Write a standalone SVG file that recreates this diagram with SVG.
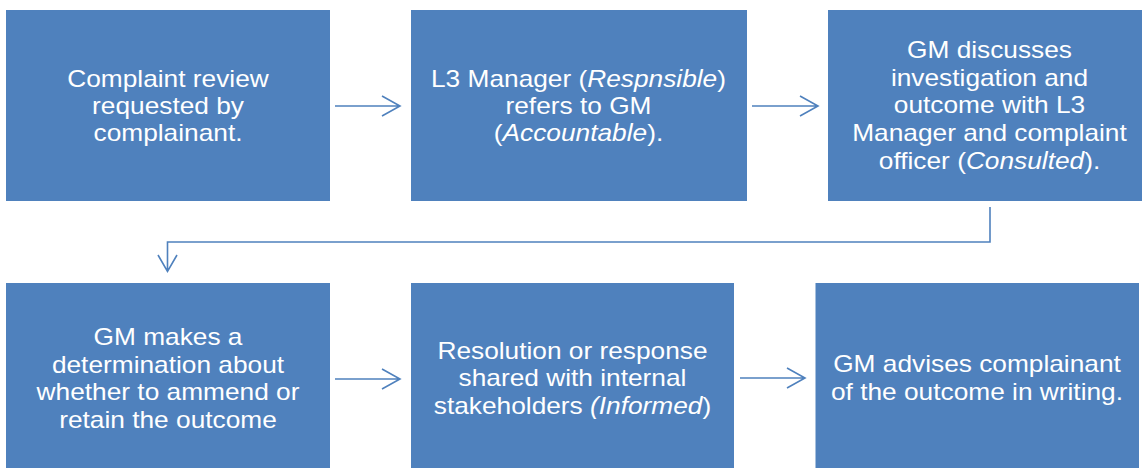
<svg xmlns="http://www.w3.org/2000/svg" width="1142" height="468" viewBox="0 0 1142 468">
<style>
.box{fill:#4F81BD;}
.t{font-family:"Liberation Sans",Arial,sans-serif;font-size:24px;fill:#FFFFFF;text-anchor:middle;}
.i{font-style:italic;}
.c{fill:none;stroke:#4F81BD;stroke-width:1.6;}
</style>
<rect width="1142" height="468" fill="#FFFFFF"/>
<g id="connectors">
<path class="c" d="M335,106 H400 M382,96 L400,106 L382,116"/>
<path class="c" d="M752,106 H818 M800,96 L818,106 L800,116"/>
<path class="c" d="M990,207 V242 H167.5 V271 M158,255 L167.5,271.5 L177,255"/>
<path class="c" d="M335,379 H400 M382,369 L400,379 L382,389"/>
<path class="c" d="M740,378 H805 M787,368 L805,378 L787,388"/>
</g>
<g id="n1">
<rect class="box" x="6" y="10" width="324" height="191"/>
<g transform="translate(168,0) scale(1.095,1)">
<text class="t" x="0" y="87">Complaint review</text>
<text class="t" x="0" y="114">requested by</text>
<text class="t" x="0" y="141">complainant.</text>
</g>
</g>
<g id="n2">
<rect class="box" x="411" y="10" width="336" height="191"/>
<g transform="translate(578.5,0) scale(1.095,1)">
<text class="t" x="0" y="87">L3 Manager (<tspan class="i">Respnsible</tspan>)</text>
<text class="t" x="0" y="114">refers to GM</text>
<text class="t" x="0" y="141">(<tspan class="i">Accountable</tspan>).</text>
</g>
</g>
<g id="n3">
<rect class="box" x="828" y="10" width="323" height="191"/>
<g transform="translate(989.5,0) scale(1.095,1)">
<text class="t" x="0" y="58.5">GM discusses</text>
<text class="t" x="0" y="86">investigation and</text>
<text class="t" x="0" y="113.5">outcome with L3</text>
<text class="t" x="0" y="141">Manager and complaint</text>
<text class="t" x="0" y="169">officer (<tspan class="i">Consulted</tspan>).</text>
</g>
</g>
<g id="n4">
<rect class="box" x="6" y="283" width="324" height="185"/>
<g transform="translate(168,0) scale(1.095,1)">
<text class="t" x="0" y="345.5">GM makes a</text>
<text class="t" x="0" y="373">determination about</text>
<text class="t" x="0" y="400.5">whether to ammend or</text>
<text class="t" x="0" y="428">retain the outcome</text>
</g>
</g>
<g id="n5">
<rect class="box" x="411" y="283" width="323" height="185"/>
<g transform="translate(572.5,0) scale(1.095,1)">
<text class="t" x="0" y="359">Resolution or response</text>
<text class="t" x="0" y="386.5">shared with internal</text>
<text class="t" x="0" y="414">stakeholders <tspan class="i">(Informed</tspan>)</text>
</g>
</g>
<g id="n6">
<rect class="box" x="815.5" y="283" width="323.5" height="185"/>
<g transform="translate(977,0) scale(1.095,1)">
<text class="t" x="0" y="372.5">GM advises complainant</text>
<text class="t" x="0" y="400.5">of the outcome in writing.</text>
</g>
</g>
</svg>
